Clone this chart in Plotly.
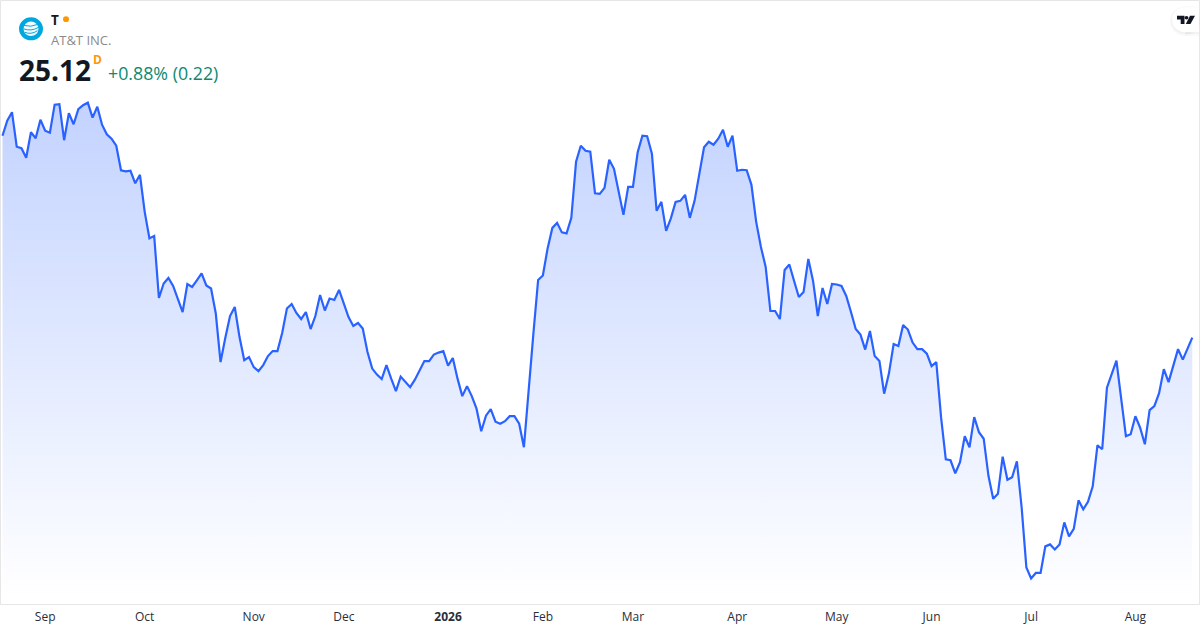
import plotly.graph_objects as go

# daily closes
prices = [
    29.15, 29.45, 29.62, 28.93, 28.90, 28.71, 29.22, 29.10, 29.47, 29.25,
    29.21, 29.77, 29.78, 29.06, 29.60, 29.38, 29.68, 29.76, 29.81, 29.51,
    29.73, 29.37, 29.18, 29.09, 28.95, 28.46, 28.44, 28.45, 28.20, 28.37,
    27.63, 27.10, 27.15, 25.91, 26.20, 26.31, 26.15, 25.91, 25.63, 26.19,
    26.13, 26.26, 26.40, 26.16, 26.10, 25.60, 24.63, 25.11, 25.55, 25.73,
    25.13, 24.67, 24.73, 24.53, 24.45, 24.57, 24.75, 24.85, 24.85, 25.21,
    25.70, 25.79, 25.61, 25.49, 25.63, 25.29, 25.55, 25.97, 25.66, 25.90,
    25.87, 26.07, 25.80, 25.53, 25.35, 25.41, 25.30, 24.83, 24.50, 24.38,
    24.29, 24.57, 24.30, 24.05, 24.34, 24.24, 24.13, 24.28, 24.45, 24.65,
    24.65, 24.78, 24.82, 24.85, 24.56, 24.71, 24.30, 23.95, 24.15, 23.95,
    23.70, 23.25, 23.56, 23.69, 23.44, 23.40, 23.45, 23.55, 23.55, 23.40,
    22.93, 24.13, 25.20, 26.27, 26.36, 26.90, 27.31, 27.41, 27.22, 27.20,
    27.51, 28.63, 28.95, 28.85, 28.83, 28.00, 27.99, 28.11, 28.67, 28.49,
    28.00, 27.57, 28.13, 28.13, 28.82, 29.15, 29.14, 28.79, 27.65, 27.83,
    27.25, 27.50, 27.83, 27.85, 27.97, 27.51, 27.85, 28.40, 28.92, 29.03,
    28.97, 29.09, 29.27, 28.93, 29.15, 28.45, 28.47, 28.46, 28.17, 27.43,
    26.93, 26.53, 25.65, 25.65, 25.49, 26.47, 26.58, 26.25, 25.93, 26.03,
    26.69, 26.25, 25.55, 26.11, 25.79, 26.19, 26.18, 26.15, 25.95, 25.63,
    25.29, 25.18, 24.88, 25.25, 24.75, 24.65, 24.00, 24.40, 24.99, 24.95,
    25.37, 25.28, 25.02, 24.89, 24.89, 24.80, 24.55, 24.63, 23.53, 22.69,
    22.67, 22.41, 22.63, 23.15, 22.93, 23.53, 23.23, 23.10, 22.36, 21.90,
    22.00, 22.74, 22.28, 22.33, 22.65, 21.73, 20.53, 20.31, 20.42, 20.42,
    20.95, 20.99, 20.89, 20.99, 21.43, 21.15, 21.30, 21.87, 21.69, 21.84,
    22.15, 22.97, 22.89, 24.12, 24.41, 24.66, 23.90, 23.15, 23.19, 23.55,
    23.32, 22.99, 23.67, 23.75, 24.01, 24.49, 24.23, 24.57, 24.89, 24.68,
    24.90, 25.12,
]
month_labels = ["Sep", "Oct", "Nov", "Dec", "<b>2026</b>", "Feb", "Mar", "Apr", "May", "Jun", "Jul", "Aug"]
month_days = [9, 30, 53, 72, 94, 114, 133, 155, 176, 196, 217, 239]

W = 1200
H = 630
LINE = "#2962ff"
FONT = "Open Sans"


# page pixels -> paper coordinates
def px_(x):
    return x / W


def py(y):
    return 1 - y / H


def label(x, y, text, size, color, anchor="left"):
    return dict(x=px_(x), y=py(y), xref="paper", yref="paper", text=text, showarrow=False,
                xanchor=anchor, yanchor="middle", borderpad=0, borderwidth=0,
                font=dict(family=FONT, size=size, color=color))


def path(d, fill, line=None, width=0):
    return dict(type="path", xref="paper", yref="paper", path=d, fillcolor=fill,
                line=dict(color=line or fill, width=width), layer="above")


def circle(cx, cy, r, fill):
    return dict(type="circle", xref="paper", yref="paper", x0=px_(cx - r), x1=px_(cx + r),
                y0=py(cy + r), y1=py(cy - r), fillcolor=fill, line=dict(width=0), layer="above")


def box(x0, y0, x1, y1, fill):
    return dict(type="rect", xref="paper", yref="paper", x0=px_(x0), x1=px_(x1), y0=py(y1), y1=py(y0),
                fillcolor=fill, line=dict(width=0), layer="above")


def poly(points):
    return "M " + " L ".join(f"{px_(x):.5f},{py(y):.5f}" for x, y in points) + " Z"


# one curved band of the globe
def band(x0, y0, xc, yc, x1, y1):
    d = f"M {px_(x0):.5f},{py(y0):.5f} Q {px_(xc):.5f},{py(yc):.5f} {px_(x1):.5f},{py(y1):.5f}"
    return dict(type="path", xref="paper", yref="paper", path=d, fillcolor="rgba(0,0,0,0)",
                line=dict(color="#00a8e0", width=1), layer="above")


fig = go.Figure()
fig.add_trace(go.Scatter(
    x=list(range(len(prices))), y=prices, mode="lines", fill="tozeroy",
    line=dict(color=LINE, width=2.2),
    fillgradient=dict(type="vertical", start=19.9, stop=max(prices),
                      colorscale=[[0, "rgba(41,98,255,0)"], [1, "rgba(41,98,255,0.28)"]]),
    hoverinfo="skip",
))

shapes = [
    # card border
    dict(type="rect", xref="paper", yref="paper", x0=px_(0.5), x1=px_(1199.5), y0=py(629.5), y1=py(0.5),
         line=dict(color="#e6e6e6", width=1), layer="above"),
    # logo
    circle(31, 30, 12, "#00a8e0"),
    circle(31, 30, 7.5, "#f2fbff"),
    band(24, 26.5, 31, 28.5, 37.5, 25.5),
    band(23.5, 30, 31, 33, 38.5, 28.5),
    band(24.5, 33.5, 31, 36.5, 37.5, 32),
    # status dot
    circle(66, 20, 3, "#ff9800"),
    # badge top right, soft shadow first
    circle(1185, 22, 15.5, "rgba(0,0,0,0.02)"),
    box(1185, 6.5, 1199, 37.5, "rgba(0,0,0,0.02)"),
    circle(1185, 21.5, 14, "rgba(0,0,0,0.03)"),
    box(1185, 7.5, 1199, 35.5, "rgba(0,0,0,0.03)"),
    circle(1185, 20.5, 13, "#ffffff"),
    box(1185, 7.5, 1199, 33.5, "#ffffff"),
    path(poly([(1177, 16.5), (1184.5, 16.5), (1184.5, 25), (1180.7, 25), (1180.7, 20.3), (1177, 20.3)]), "#131722"),
    circle(1186.5, 18.5, 1.9, "#131722"),
    path(poly([(1190, 16.5), (1195, 16.5), (1190.5, 25), (1185.8, 25)]), "#131722"),
]

fig.update_layout(
    width=W, height=H, margin=dict(l=0, r=0, t=0, b=25),
    paper_bgcolor="white", plot_bgcolor="white", showlegend=False,
    font=dict(family=FONT),
    xaxis=dict(range=[-0.527, 252.63], tickmode="array", tickvals=month_days, ticktext=month_labels,
               showgrid=False, zeroline=False, showline=False, ticks="", ticklabelstandoff=3,
               tickfont=dict(family=FONT, size=12, color="#2a2e39")),
    yaxis=dict(range=[19.78, 31.86], visible=False),
    shapes=shapes,
    annotations=[
        label(51, 21, "<b>T</b>", 13.5, "#131722"),
        label(51, 41.5, "AT&amp;T INC.", 13, "#8a8a8a"),
        label(19, 73, "<b>25.12</b>", 28, "#131722"),
        label(93, 62, "<b>D</b>", 12, "#ff9800"),
        label(108, 76.5, "+0.88% (0.22)", 17.8, "#0b8a72"),
    ],
)

# drop the default page margin so the 1200x630 figure fills the window
fig.write_html("out.html", config={"displayModeBar": False}, post_script="document.body.style.margin='0';")
